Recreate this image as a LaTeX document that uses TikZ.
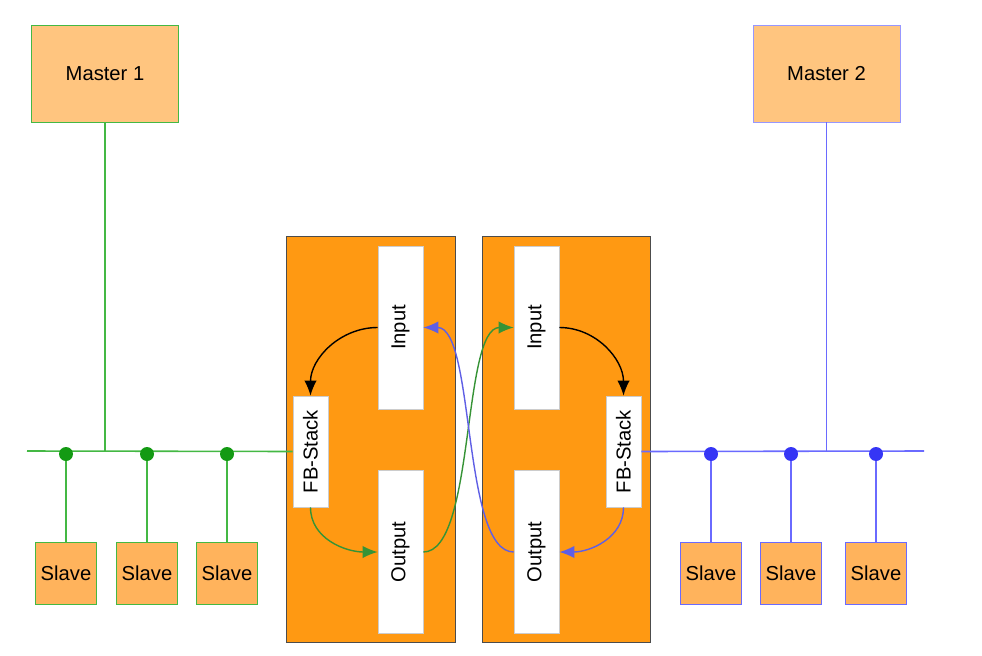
\documentclass[tikz,border=0pt]{standalone}
\usepackage{fontspec}
\setmainfont{Liberation Sans}
\usetikzlibrary{arrows.meta, positioning}
\definecolor{gwcore}{HTML}{FF9912}
\definecolor{masterfill}{HTML}{FFC57F}
\definecolor{slavefill}{HTML}{FFB35C}
\definecolor{busgreen}{HTML}{44B844}
\definecolor{dotgreen}{HTML}{139A13}
\definecolor{busblue}{HTML}{6A6AFF}
\definecolor{dotblue}{HTML}{3535F5}

\begin{document}
\begin{tikzpicture}[x=0.02cm, y=-0.02cm,
        >={Latex[length=8.5pt, width=7pt]},
        master/.style={draw, fill=masterfill, minimum width=2.94cm, minimum height=1.94cm, font=\fontsize{11.5}{13}\selectfont},
        slave/.style={draw, fill=slavefill, minimum width=1.22cm, minimum height=1.24cm, inner sep=0pt, font=\fontsize{11.5}{13}\selectfont},
        core/.style={draw=black!70, fill=gwcore, minimum width=3.37cm, minimum height=8.12cm},
        port/.style={draw=gray!40, fill=white, inner sep=0pt, minimum width=0.9cm, minimum height=3.26cm, font=\fontsize{11.5}{13}\selectfont},
        stack/.style={draw=gray!40, fill=white, inner sep=0pt, minimum width=0.7cm, minimum height=2.22cm, font=\fontsize{11.5}{13}\selectfont},
        bus/.style={line width=0.9pt},
        tap/.style={circle, inner sep=0pt, minimum size=0.28cm},
        flow/.style={->, line width=0.8pt},
    ]
    \useasboundingbox (0, 0) rectangle (982, 655);

    % ---- Gateway: two cores ----
    \node[core] (coreL) at (371, 439.5) {};
    \node[core] (coreR) at (566.5, 439.5) {};

    \node[port] (inL) at (400.5, 327.5) {\rotatebox{90}{Input}};
    \node[port] (outL) at (400.5, 552) {\rotatebox{90}{Output}};
    \node[stack] (fbL) at (310.5, 451.5) {\rotatebox{90}{FB-Stack}};

    \node[port] (inR) at (536.5, 327.5) {\rotatebox{90}{Input}};
    \node[port] (outR) at (536.5, 552) {\rotatebox{90}{Output}};
    \node[stack] (fbR) at (623.5, 451.5) {\rotatebox{90}{FB-Stack}};

    % ---- Data flow ----
    \draw[flow, black] (inL.west) to[out=180, in=90] (fbL.north);
    \draw[flow, busgreen!80!black] (fbL.south) to[out=-90, in=180] (outL.west);
    \draw[flow, busgreen!80!black] (outL.east) to[out=0, in=180, looseness=0.55] (inR.west);
    \draw[flow, busblue!90!black] (outR.west) to[out=180, in=0, looseness=0.55] (inL.east);
    \draw[flow, black] (inR.east) to[out=0, in=90] (fbR.north);
    \draw[flow, busblue!90!black] (fbR.south) to[out=-90, in=0] (outR.east);

    % ---- Network 1 (green) ----
    \node[master, draw=busgreen] (master1) at (105, 73.5) {Master 1};
    \coordinate (busL) at (27, 451);
    \draw[bus, busgreen] (busL) -- (fbL.west);
    \draw[bus, busgreen] (master1.south) -- (master1.south |- fbL.west);

    \node[tap, fill=dotgreen] (tapL1) at (66, 454) {};
    \node[tap, fill=dotgreen] (tapL2) at (147, 454) {};
    \node[tap, fill=dotgreen] (tapL3) at (227, 454) {};
    \node[slave, draw=busgreen] (slaveL1) at (66, 573) {Slave};
    \node[slave, draw=busgreen] (slaveL2) at (147, 573) {Slave};
    \node[slave, draw=busgreen] (slaveL3) at (227, 573) {Slave};
    \draw[bus, busgreen] (tapL1) -- (slaveL1.north);
    \draw[bus, busgreen] (tapL2) -- (slaveL2.north);
    \draw[bus, busgreen] (tapL3) -- (slaveL3.north);

    % ---- Network 2 (blue) ----
    \node[master, draw=busblue!70] (master2) at (826.5, 73.5) {Master 2};
    \coordinate (busR) at (924, 451);
    \draw[bus, busblue] (fbR.east) -- (busR);
    \draw[bus, busblue] (master2.south) -- (master2.south |- fbR.east);

    \node[tap, fill=dotblue] (tapR1) at (711, 454) {};
    \node[tap, fill=dotblue] (tapR2) at (791, 454) {};
    \node[tap, fill=dotblue] (tapR3) at (876, 454) {};
    \node[slave, draw=busblue] (slaveR1) at (711, 573) {Slave};
    \node[slave, draw=busblue] (slaveR2) at (791, 573) {Slave};
    \node[slave, draw=busblue] (slaveR3) at (876, 573) {Slave};
    \draw[bus, busblue] (tapR1) -- (slaveR1.north);
    \draw[bus, busblue] (tapR2) -- (slaveR2.north);
    \draw[bus, busblue] (tapR3) -- (slaveR3.north);

\end{tikzpicture}
\end{document}
